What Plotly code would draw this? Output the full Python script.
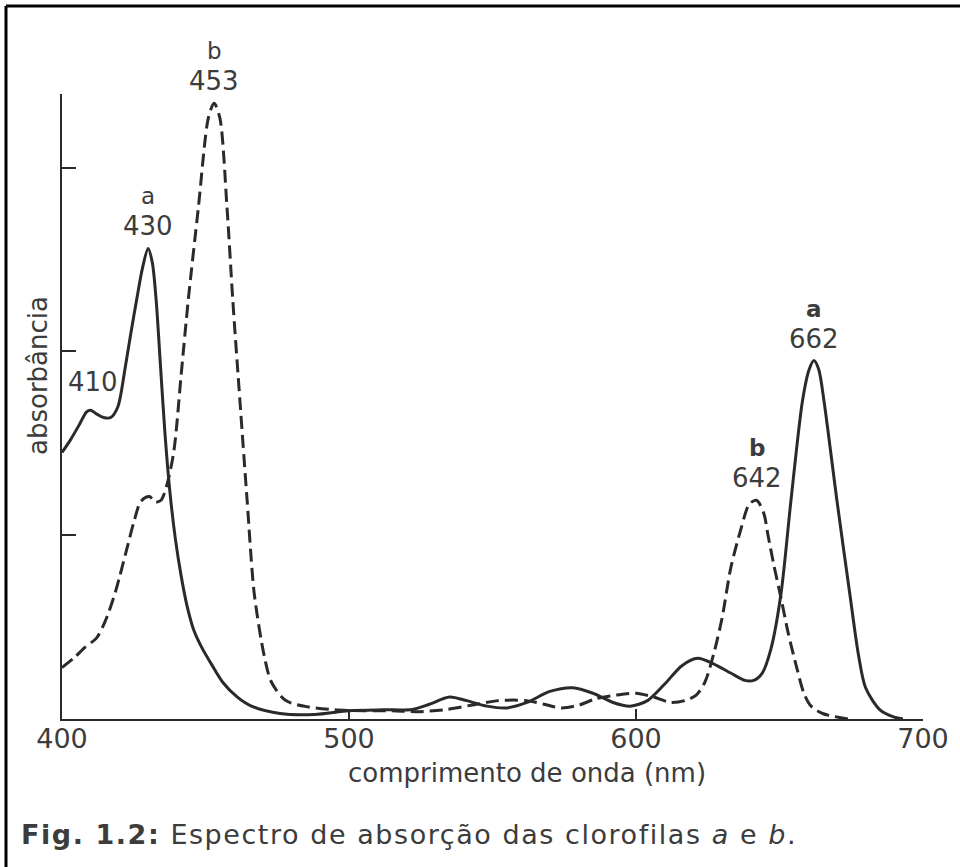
import plotly.graph_objects as go

# Absorption spectra of chlorophyll a (solid) and chlorophyll b (dashed)
wavelength_a = [400, 403, 406, 408.5, 410, 412, 414.5, 417, 419.5, 422, 424, 426, 428, 430,
                431.5, 432.8, 434.2, 435.8, 437.5, 439.5, 441.5, 443.5, 446, 449, 452, 456, 461, 466,
                476, 488, 500, 512, 522, 528, 535, 541, 548, 555, 562, 570, 578, 585, 592, 598,
                604, 610, 616, 621.5, 627, 633, 638, 641, 644, 647, 650.5, 654, 658, 660.3, 662,
                663.7, 665.5, 670, 674.5, 677.5, 680, 685, 690, 693]
absorbance_a = [1.45, 1.52, 1.60, 1.67, 1.68, 1.66, 1.64, 1.64, 1.70, 1.91, 2.10, 2.28, 2.45, 2.56,
                2.48, 2.28, 1.95, 1.57, 1.25, 0.98, 0.78, 0.62, 0.48, 0.38, 0.30, 0.20, 0.12, 0.07,
                0.03, 0.025, 0.045, 0.05, 0.052, 0.08, 0.12, 0.10, 0.07, 0.06, 0.09, 0.15, 0.17, 0.14, 0.09, 0.07,
                0.10, 0.19, 0.29, 0.33, 0.30, 0.25, 0.21, 0.21, 0.25, 0.38, 0.68, 1.19, 1.73, 1.90, 1.95,
                1.90, 1.73, 1.19, 0.68, 0.35, 0.17, 0.05, 0.01, 0.0]

wavelength_b = [400, 404, 408, 412, 415, 418, 420, 422.5, 425, 427, 428.5, 430.5, 432.5, 434.5,
                436.5, 439, 441.5, 444, 447.5, 451, 453, 455, 457.5, 459.5, 462, 464.5, 467,
                470.5, 473, 478, 486, 495, 505, 515, 524, 533, 543, 552, 562, 568, 574, 580,
                586, 593, 600, 606, 612, 617, 621, 624, 627, 630, 633, 636.5, 639.5, 642,
                644.5, 646, 648, 650.5, 653, 656, 658.5, 661, 665, 674]
absorbance_b = [0.28, 0.33, 0.39, 0.44, 0.53, 0.66, 0.77, 0.92, 1.07, 1.17, 1.20, 1.21, 1.18, 1.19,
                1.27, 1.46, 1.87, 2.28, 2.78, 3.27, 3.35, 3.27, 2.78, 2.28, 1.73, 1.19, 0.68,
                0.34, 0.20, 0.10, 0.065, 0.05, 0.045, 0.045, 0.04, 0.05, 0.076, 0.10, 0.10, 0.08, 0.06, 0.075,
                0.11, 0.13, 0.14, 0.12, 0.09, 0.10, 0.13, 0.20, 0.35, 0.55, 0.82, 1.03, 1.17, 1.19,
                1.12, 1.00, 0.84, 0.66, 0.47, 0.28, 0.14, 0.07, 0.03, 0.0]

# Labelled peaks: (wavelength, absorbance, pigment letter, bold letter)
peak_nm = [430, 453, 642, 662]
peak_abs = [2.56, 3.35, 1.19, 1.95]
peak_letter = ["a", "b", "b", "a"]
peak_bold = [False, False, True, True]
shoulder_nm = 410
shoulder_abs = 1.68

x_ticks = [400, 500, 600, 700]
y_ticks = [1, 2, 3]

FONT = "DejaVu Sans"
INK = "#2a2a2a"
TEXT = "#3c3c3c"

W, H = 960, 867
ML, MR, MT, MB = 62, 37, 94, 148
PW, PH = W - ML - MR, H - MT - MB


def px_x(px):
    return (px - ML) / PW


def px_y(py):
    return (H - MB - py) / PH


fig = go.Figure()
fig.add_trace(go.Scatter(
    x=wavelength_a, y=absorbance_a, mode="lines", name="clorofila a",
    line=dict(color=INK, width=3, shape="spline", smoothing=0.8),
    hoverinfo="skip"))
fig.add_trace(go.Scatter(
    x=wavelength_b, y=absorbance_b, mode="lines", name="clorofila b",
    line=dict(color=INK, width=3, dash="13px,6px", shape="spline", smoothing=0.8),
    hoverinfo="skip"))

annotations = []
for nm, ab, letter, bold in zip(peak_nm, peak_abs, peak_letter, peak_bold):
    annotations.append(dict(x=nm, y=ab, xref="x", yref="y", text=str(nm), showarrow=False,
                            yanchor="middle", yshift=22,
                            font=dict(family=FONT, size=26, color=TEXT)))
    annotations.append(dict(x=nm, y=ab, xref="x", yref="y",
                            text=f"<b>{letter}</b>" if bold else letter, showarrow=False,
                            yanchor="middle", yshift=52,
                            font=dict(family=FONT, size=23, color=TEXT)))
annotations.append(dict(x=shoulder_nm, y=shoulder_abs, xref="x", yref="y", text=str(shoulder_nm),
                        showarrow=False, yanchor="middle", yshift=28, xshift=2,
                        font=dict(family=FONT, size=26, color=TEXT)))

# axis titles
annotations.append(dict(x=px_x(38), y=px_y(376), xref="paper", yref="paper", text="absorbância",
                        textangle=-90, showarrow=False, xanchor="center", yanchor="middle",
                        font=dict(family=FONT, size=26, color=TEXT)))
annotations.append(dict(x=px_x(527), y=px_y(773), xref="paper", yref="paper",
                        text="comprimento de onda (nm)", showarrow=False,
                        xanchor="center", yanchor="middle",
                        font=dict(family=FONT, size=26, color=TEXT)))

# caption
annotations.append(dict(x=px_x(19), y=px_y(834), xref="paper", yref="paper",
                        text="<span style='letter-spacing:1.55px'><b>Fig. 1.2:</b> Espectro de absorção "
                             "das clorofilas <i>a</i> e <i>b</i>.</span>",
                        showarrow=False, xanchor="left", yanchor="middle",
                        font=dict(family=FONT, size=27, color=TEXT)))

# frame around the figure (top and left edges)
shapes = [
    dict(type="line", xref="paper", yref="paper", x0=px_x(6), y0=px_y(6), x1=px_x(W + 5), y1=px_y(6),
         line=dict(color="black", width=3)),
    dict(type="line", xref="paper", yref="paper", x0=px_x(6), y0=px_y(6), x1=px_x(6), y1=px_y(H + 5),
         line=dict(color="black", width=3)),
]

fig.update_layout(
    width=W, height=H,
    margin=dict(l=ML, r=MR, t=MT, b=MB, pad=0),
    paper_bgcolor="white", plot_bgcolor="white",
    showlegend=False,
    annotations=annotations,
    shapes=shapes,
    xaxis=dict(range=[400, 700], tickvals=x_ticks, ticks="inside", ticklen=10, tickwidth=1.5,
               tickcolor=INK, showline=True, linecolor=INK, linewidth=1.5, showgrid=False,
               zeroline=False, tickfont=dict(family=FONT, size=27, color=TEXT),
               ticklabelstandoff=-5),
    yaxis=dict(range=[0, 3.4], tickvals=y_ticks, ticks="inside", ticklen=14, tickwidth=1.5,
               tickcolor=INK, showline=True, linecolor=INK, linewidth=1.5, showgrid=False,
               zeroline=False, showticklabels=False),
)

fig.write_html("out.html", config={"displayModeBar": False})
